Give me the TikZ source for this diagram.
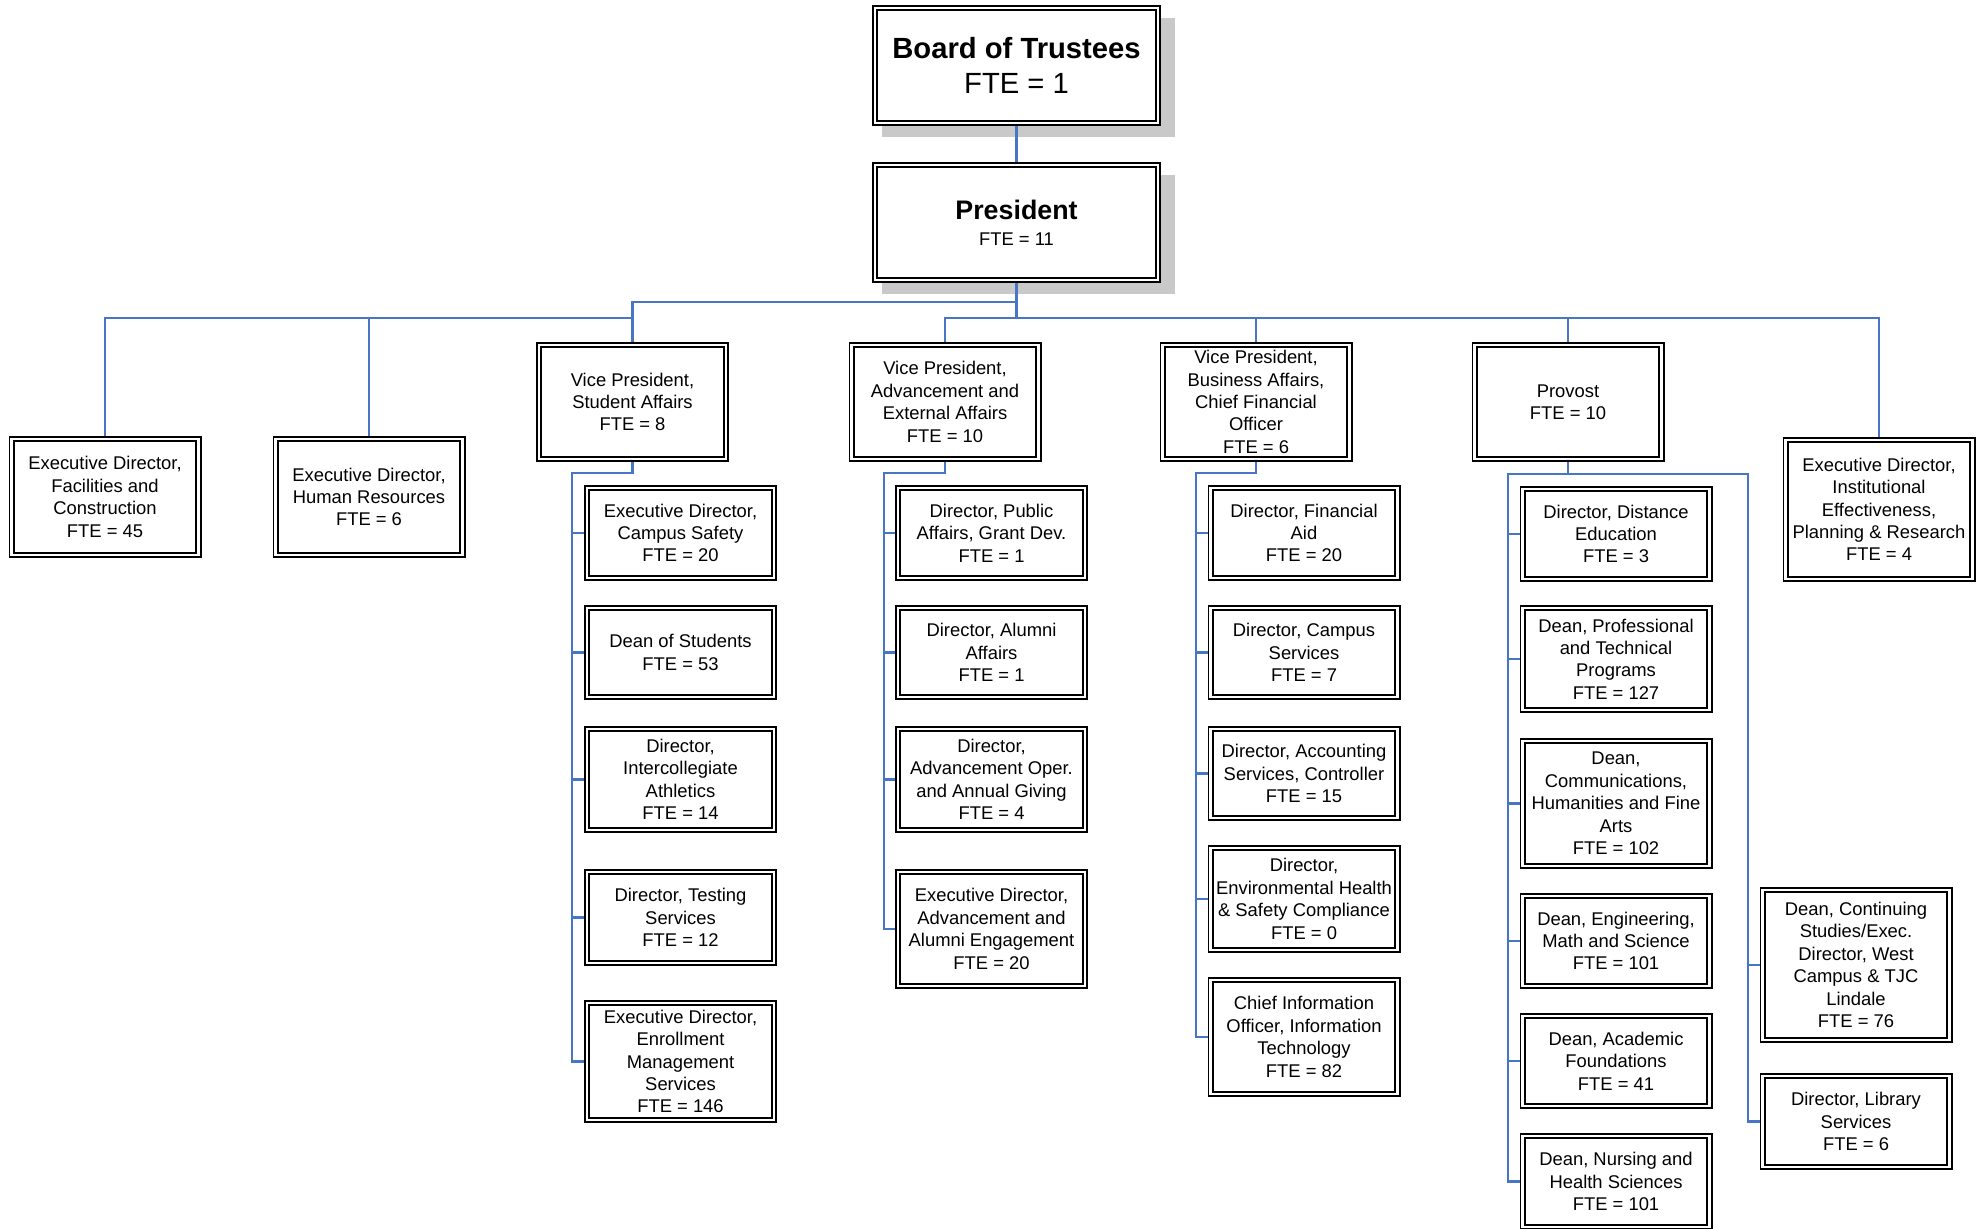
\documentclass[tikz,border=0pt]{standalone}
\usepackage{fontspec}
\setmainfont{Liberation Sans}
\usetikzlibrary{shadows}
\definecolor{linkblue}{RGB}{70,118,196}
\tikzset{
  unitbox/.style={draw, fill=white, double, line width=0.9pt, double distance=1.3pt,
    outer sep=1.55pt, minimum width=93.4pt, inner sep=0pt, align=center,
    font=\fontsize{9.2pt}{11.2pt}\selectfont},
  headbox/.style={unitbox, minimum width=141.4pt, minimum height=57.4pt,
    drop shadow={shadow xshift=5.75pt, shadow yshift=-5.75pt, shadow scale=1.035, fill=black!21, opacity=1}},
  orglink/.style={draw=linkblue, line width=1.15pt}
}
\begin{document}
\begin{tikzpicture}[x=0.5pt, y=-0.5pt]
    \path[use as bounding box, fill=white] (0,0) rectangle (1986,1228);
    \node[headbox, font=\fontsize{14.6pt}{17.75pt}\selectfont] (board) at (1016.5,65.5) {\textbf{Board of Trustees}\\FTE = 1};
    \node[headbox, font=\fontsize{9.2pt}{13.2pt}\selectfont] (pres) at (1016.5,222.5) {{\fontsize{13.4pt}{13.2pt}\selectfont\bfseries President}\\FTE = 11};

    \node[unitbox, minimum height=57.9pt] (fac) at (105,497) {Executive Director,\\Facilities and\\Construction\\FTE = 45};
    \node[unitbox, minimum height=57.9pt] (hr) at (369,497) {Executive Director,\\Human Resources\\FTE = 6};
    \node[unitbox, minimum height=56.9pt] (vsa) at (632.5,402) {Vice President,\\Student Affairs\\FTE = 8};
    \node[unitbox, minimum height=56.9pt] (vadv) at (945,402) {Vice President,\\Advancement and\\External Affairs\\FTE = 10};
    \node[unitbox, minimum height=56.9pt] (vbus) at (1256,402) {Vice President,\\Business Affairs,\\Chief Financial\\Officer\\FTE = 6};
    \node[unitbox, minimum height=56.9pt] (prov) at (1568,402) {Provost\\FTE = 10};
    \node[unitbox, minimum height=69.4pt] (inst) at (1879,509.5) {Executive Director,\\Institutional\\Effectiveness,\\Planning \& Research\\FTE = 4};

    \node[unitbox, minimum height=44.9pt] (cs) at (680.5,533) {Executive Director,\\Campus Safety\\FTE = 20};
    \node[unitbox, minimum height=44.4pt] (dos) at (680.5,652.5) {Dean of Students\\FTE = 53};
    \node[unitbox, minimum height=50.4pt] (ath) at (680.5,779.5) {Director,\\Intercollegiate\\Athletics\\FTE = 14};
    \node[unitbox, minimum height=45.4pt] (test) at (680.5,917.5) {Director, Testing\\Services\\FTE = 12};
    \node[unitbox, minimum height=58.4pt] (enr) at (680.5,1061.5) {Executive Director,\\Enrollment\\Management\\Services\\FTE = 146};

    \node[unitbox, minimum height=44.9pt] (pa) at (991.5,533) {Director, Public\\Affairs, Grant Dev.\\FTE = 1};
    \node[unitbox, minimum height=44.4pt] (alum) at (991.5,652.5) {Director, Alumni\\Affairs\\FTE = 1};
    \node[unitbox, minimum height=50.4pt] (advop) at (991.5,779.5) {Director,\\Advancement Oper.\\and Annual Giving\\FTE = 4};
    \node[unitbox, minimum height=56.9pt] (eda) at (991.5,929) {Executive Director,\\Advancement and\\Alumni Engagement\\FTE = 20};

    \node[unitbox, minimum height=44.9pt] (fa) at (1304,533) {Director, Financial\\Aid\\FTE = 20};
    \node[unitbox, minimum height=44.4pt] (csv) at (1304,652.5) {Director, Campus\\Services\\FTE = 7};
    \node[unitbox, minimum height=44.4pt] (acc) at (1304,773.5) {Director, Accounting\\Services, Controller\\FTE = 15};
    \node[unitbox, minimum height=50.9pt] (env) at (1304,899) {Director,\\Environmental Health\\\& Safety Compliance\\FTE = 0};
    \node[unitbox, minimum height=56.9pt] (cio) at (1304,1037) {Chief Information\\Officer, Information\\Technology\\FTE = 82};

    \node[unitbox, minimum height=44.9pt] (dist) at (1616,534) {Director, Distance\\Education\\FTE = 3};
    \node[unitbox, minimum height=50.9pt] (prof) at (1616,659) {Dean, Professional\\and Technical\\Programs\\FTE = 127};
    \node[unitbox, minimum height=62.4pt] (comm) at (1616,803.5) {Dean,\\Communications,\\Humanities and Fine\\Arts\\FTE = 102};
    \node[unitbox, minimum height=44.9pt] (eng) at (1616,941) {Dean, Engineering,\\Math and Science\\FTE = 101};
    \node[unitbox, minimum height=44.9pt] (acad) at (1616,1061) {Dean, Academic\\Foundations\\FTE = 41};
    \node[unitbox, minimum height=45.4pt] (nurs) at (1616,1181.5) {Dean, Nursing and\\Health Sciences\\FTE = 101};
    \node[unitbox, minimum height=74.9pt] (cont) at (1856,965) {Dean, Continuing\\Studies/Exec.\\Director, West\\Campus \& TJC\\Lindale\\FTE = 76};
    \node[unitbox, minimum height=45.4pt] (lib) at (1856,1121.5) {Director, Library\\Services\\FTE = 6};

    \coordinate (topbus) at (0,302);
    \coordinate (midbus) at (0,318);
    \coordinate (saspine) at (572,473);
    \coordinate (adspine) at (884,473);
    \coordinate (buspine) at (1196,473);
    \coordinate (provl) at (1508,474);
    \coordinate (provr) at (1748,474);

    \draw[orglink] (board) -- (pres);
    \draw[orglink] (pres.south) -- (pres.south |- midbus);
    \draw[orglink] (vsa.north) |- (pres.south |- topbus);
    \draw[orglink] (fac.north) |- (vsa.north |- midbus);
    \draw[orglink] (hr.north) -- (hr.north |- midbus);
    \draw[orglink] (vadv.north) |- (inst.north |- midbus) -- (inst.north);
    \foreach \n in {vbus,prov}
      \draw[orglink] (\n.north) -- (\n.north |- midbus);

    \draw[orglink] (vsa.south) |- (saspine) |- (enr.west);
    \foreach \n in {cs,dos,ath,test}
      \draw[orglink] (\n.west) -- (\n.west -| saspine);
    \draw[orglink] (vadv.south) |- (adspine) |- (eda.west);
    \foreach \n in {pa,alum,advop}
      \draw[orglink] (\n.west) -- (\n.west -| adspine);
    \draw[orglink] (vbus.south) |- (buspine) |- (cio.west);
    \foreach \n in {fa,csv,acc,env}
      \draw[orglink] (\n.west) -- (\n.west -| buspine);
    \draw[orglink] (prov.south) -- (prov.south |- provl);
    \draw[orglink] (nurs.west) -| (provl) -- (provr) |- (lib.west);
    \foreach \n in {dist,prof,comm,eng,acad}
      \draw[orglink] (\n.west) -- (\n.west -| provl);
    \draw[orglink] (cont.west) -- (cont.west -| provr);
\end{tikzpicture}
\end{document}
